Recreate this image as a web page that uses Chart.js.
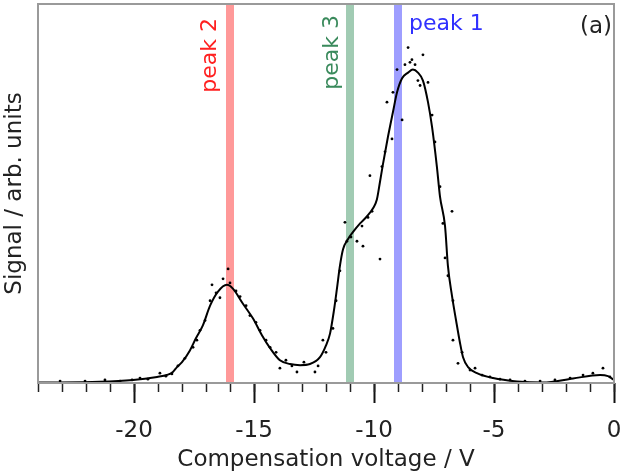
<!DOCTYPE html>
<html>
<head>
  <meta charset="UTF-8">
  <title>Compensation voltage scan</title>
  <style>
    html, body { margin: 0; padding: 0; background: white; }
    .chart-wrapper { width: 622px; height: 474px; }
  </style>
</head>
<body>
  <div class="chart-wrapper">
    <canvas id="cv-chart"></canvas>
  </div>

  <script src="https://cdn.jsdelivr.net/npm/chart.js@4.4.1/dist/chart.umd.min.js"></script>
  <script>
    // smoothed signal (compensation voltage / V, signal)
    const LINE_CV = [-24, -21.42, -20.04, -19.04, -18.63, -18.38, -18.21, -18.0, -17.67, -17.42,
      -17.13, -16.83, -16.5, -16.13, -15.88, -15.46, -15.04, -14.67, -14.33, -13.92,
      -13.5, -13.08, -12.67, -12.25, -12.0, -11.83, -11.67, -11.54, -11.42, -11.29,
      -11.08, -10.88, -10.58, -10.29, -10.04, -9.88, -9.75, -9.63, -9.42, -9.21,
      -9.04, -8.83, -8.58, -8.38, -8.17, -7.96, -7.75, -7.58, -7.38, -7.25,
      -7.04, -6.92, -6.75, -6.58, -6.42, -6.29, -6.08, -5.71, -5.04, -4.04,
      -2.96, -1.71, -0.58, -0.25, 0];
    const LINE_SIGNAL = [0.1, 0.3, 0.8, 1.6, 2.1, 2.9, 4.2, 5.5, 8.6, 11.8,
      15.2, 20.4, 24.1, 25.9, 24.9, 20.9, 17.0, 12.6, 9.2, 6.0,
      5.0, 4.7, 5.0, 6.8, 9.9, 13.1, 19.1, 25.1, 30.9, 35.3,
      38.0, 39.8, 42.1, 44.0, 46.1, 48.4, 53.1, 57.6, 64.9, 71.5,
      76.7, 80.4, 81.9, 82.7, 81.9, 79.8, 74.1, 67.5, 57.1, 49.2,
      41.4, 30.9, 23.0, 16.5, 10.7, 6.8, 4.2, 2.6, 1.3, 0.4,
      0.1, 1.2, 2.1, 1.8, 0.8];

    // raw data points
    const DOT_CV = [-23.08, -22.04, -21.21, -20.58, -20.08, -19.75, -19.42, -18.92, -18.67, -18.42,
      -18.17, -17.88, -17.54, -17.38, -17.25, -17.04, -16.83, -16.75, -16.58, -16.42,
      -16.29, -16.08, -16.0, -15.75, -15.58, -15.33, -15.17, -14.92, -14.75, -14.5,
      -14.33, -14.08, -13.92, -13.67, -13.42, -13.21, -12.92, -12.46, -12.33, -12.13,
      -12.0, -11.71, -11.58, -11.42, -11.21, -11.13, -10.96, -10.71, -10.46, -10.5,
      -10.25, -10.08, -10.17, -9.75, -9.67, -9.54, -9.46, -9.25, -9.21, -9.04,
      -8.83, -8.71, -8.58, -8.5, -8.42, -8.29, -8.17, -8.08, -7.96, -7.75,
      -7.58, -7.46, -7.25, -7.13, -6.75, -7.04, -6.92, -6.71, -6.71, -6.5,
      -6.33, -6.0, -5.79, -5.5, -5.17, -4.75, -4.33, -3.71, -3.08, -2.46,
      -1.83, -1.29, -0.88, -0.46, -0.17];
    const DOT_SIGNAL = [0.5, 0.5, 0.8, 0.5, 0.8, 1.3, 1.0, 2.6, 1.8, 2.4,
      4.5, 6.5, 9.4, 11.3, 13.9, 16.5, 21.7, 25.9, 23.8, 22.5,
      27.5, 30.1, 26.4, 24.3, 22.8, 20.4, 17.8, 16.0, 13.9, 11.3,
      9.4, 8.1, 3.9, 6.0, 4.5, 2.9, 5.5, 2.9, 4.5, 11.3,
      8.1, 14.4, 21.7, 29.6, 42.4, 37.4, 38.5, 37.4, 36.1, 41.4,
      43.7, 45.3, 54.7, 32.7, 57.1, 61.0, 74.1, 64.4, 76.7, 82.7,
      69.4, 84.0, 88.5, 84.6, 85.3, 84.0, 79.8, 78.5, 86.6, 79.3,
      70.7, 63.6, 51.8, 42.1, 45.3, 33.0, 28.3, 21.7, 11.3, 5.2,
      8.1, 3.4, 3.9, 2.1, 1.6, 1.0, 0.8, 0.5, 0.5, 0.8,
      1.3, 2.1, 2.6, 3.9, 1.6];

    const PEAK_NAMES = ['peak 2', 'peak 3', 'peak 1'];
    const PEAK_CV = [-16, -11, -9];

    const X_MIN = -24;
    const X_MAX = 0;
    const Y_MAX = 100;

    const FONT = '"DejaVu Sans", "Liberation Sans", sans-serif';
    const BAND_COLORS = ['rgba(255, 0, 0, 0.4)', 'rgba(46, 139, 87, 0.45)', 'rgba(0, 0, 255, 0.38)'];
    const LABEL_COLORS = ['#ff2020', '#3a8a5c', '#3030ff'];

    const bandDatasets = PEAK_CV.map((v, i) => ({
      type: 'line',
      label: PEAK_NAMES[i],
      data: [{ x: v, y: 0 }, { x: v, y: Y_MAX }],
      borderColor: BAND_COLORS[i],
      borderWidth: 8,
      borderCapStyle: 'butt',
      pointRadius: 0,
      order: 3
    }));

    // frame around the plot area
    const framePlugin = {
      id: 'frame',
      afterDatasetsDraw(chart) {
        const { ctx, chartArea: a } = chart;
        ctx.save();
        ctx.strokeStyle = '#9a9a9a';
        ctx.lineWidth = 2;
        ctx.strokeRect(a.left, a.top, a.right - a.left, a.bottom - a.top);
        ctx.restore();
      }
    };

    // peak names and panel letter
    const labelPlugin = {
      id: 'peakLabels',
      afterDatasetsDraw(chart) {
        const { ctx, chartArea: a, scales: { x } } = chart;
        ctx.save();
        ctx.font = `22px ${FONT}`;
        ctx.textBaseline = 'alphabetic';

        // peak 2, peak 3: vertical, left of the band
        [[0, -14.5, 14], [1, -12, 11]].forEach(([i, dx, dy]) => {
          ctx.save();
          ctx.translate(x.getPixelForValue(PEAK_CV[i]) + dx, a.top + dy);
          ctx.rotate(-Math.PI / 2);
          ctx.textAlign = 'right';
          ctx.fillStyle = LABEL_COLORS[i];
          ctx.fillText(PEAK_NAMES[i], 0, 0);
          ctx.restore();
        });

        // peak 1: horizontal, right of the band
        ctx.textAlign = 'left';
        ctx.fillStyle = LABEL_COLORS[2];
        ctx.fillText(PEAK_NAMES[2], x.getPixelForValue(PEAK_CV[2]) + 11, a.top + 26);

        ctx.font = `23px ${FONT}`;
        ctx.textAlign = 'right';
        ctx.fillStyle = '#222';
        ctx.fillText('(a)', a.right - 2, a.top + 29);
        ctx.restore();
      }
    };

    const ctx = document.getElementById('cv-chart');
    new Chart(ctx, {
      data: {
        datasets: [
          {
            type: 'line',
            label: 'smoothed',
            data: LINE_CV.map((v, i) => ({ x: v, y: LINE_SIGNAL[i] })),
            borderColor: '#000',
            borderWidth: 2,
            pointRadius: 0,
            cubicInterpolationMode: 'monotone',
            order: 1
          },
          {
            type: 'scatter',
            label: 'raw',
            data: DOT_CV.map((v, i) => ({ x: v, y: DOT_SIGNAL[i] })),
            backgroundColor: '#000',
            borderWidth: 0,
            pointRadius: 1.4,
            order: 2
          },
          ...bandDatasets
        ]
      },
      plugins: [framePlugin, labelPlugin],
      options: {
        responsive: true,
        maintainAspectRatio: false,
        animation: false,
        layout: { padding: { top: 1, right: 8, left: 0, bottom: 0 } },
        plugins: {
          legend: { display: false },
          tooltip: { enabled: false }
        },
        scales: {
          x: {
            type: 'linear',
            position: 'bottom',
            weight: 1,
            min: X_MIN,
            max: X_MAX,
            ticks: {
              stepSize: 5,
              includeBounds: false,
              padding: 14,
              maxRotation: 0,
              color: '#222',
              font: { family: FONT, size: 23 }
            },
            grid: { drawOnChartArea: false, tickLength: 20, tickColor: '#111', tickWidth: 2 },
            border: { display: false },
            title: {
              display: true,
              text: 'Compensation voltage / V',
              color: '#222',
              font: { family: FONT, size: 23 },
              padding: { top: 0, bottom: 0 }
            },
            afterFit(scale) {
              scale.height = 91;
              scale.paddingLeft = 0;
              scale.paddingRight = 0;
            }
          },
          xMinor: {
            type: 'linear',
            position: 'bottom',
            weight: 0,
            min: X_MIN,
            max: X_MAX,
            ticks: { stepSize: 1, display: false },
            grid: { drawOnChartArea: false, tickLength: 9, tickColor: '#222', tickWidth: 1.5 },
            border: { display: false },
            afterFit(scale) {
              scale.height = 0;
              scale.paddingLeft = 0;
              scale.paddingRight = 0;
            }
          },
          y: {
            min: 0,
            max: Y_MAX,
            ticks: { display: false },
            grid: { display: false },
            border: { display: false },
            title: {
              display: true,
              text: 'Signal / arb. units',
              color: '#222',
              font: { family: FONT, size: 23 },
              padding: { top: 1, bottom: 0 }
            },
            afterFit(scale) { scale.width = 38; }
          }
        }
      }
    });
  </script>
</body>
</html>
